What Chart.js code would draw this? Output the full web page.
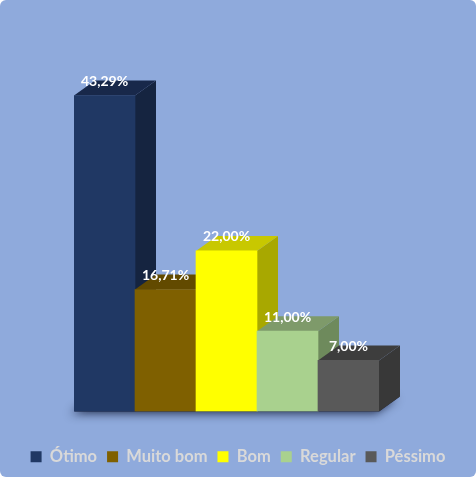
<!DOCTYPE html>
<html>
<head>
<meta charset="utf-8">
<script src="https://cdn.jsdelivr.net/npm/chart.js@4"></script>
<style>
  html, body { margin: 0; padding: 0; background: #ffffff; }
  .chart-box {
    width: 476px;
    height: 477px;
    background: #8faadc;
    border-radius: 6px;
    overflow: hidden;
  }
</style>
</head>
<body>
<div class="chart-box">
  <canvas id="avaliacaoChart" width="476" height="477"></canvas>
</div>
<script>
const categories = ['Ótimo', 'Muito bom', 'Bom', 'Regular', 'Péssimo'];
const percentages = [43.29, 16.71, 22.00, 11.00, 7.00];
const frontColors = ['#203864', '#7f6000', '#ffff00', '#a9d18e', '#595959'];
const topColors = ['#18284a', '#624a00', '#c8c800', '#7e9a6a', '#3d3d3d'];
const sideColors = ['#152440', '#574100', '#a8a800', '#6e8a5c', '#383838'];

const DEPTH_X = 21;
const DEPTH_Y = 15;

// draws the floor shadow, then side and top faces, left to right
const faces3d = {
  id: 'faces3d',
  beforeDatasetsDraw(chart) {
    const ctx = chart.ctx;
    const bars = chart.getDatasetMeta(0).data;
    const base = chart.scales.y.getPixelForValue(0);
    const first = bars[0];
    const last = bars[bars.length - 1];
    const left = first.x - first.width / 2;
    const right = last.x + last.width / 2;

    ctx.save();
    ctx.shadowColor = 'rgba(20, 30, 60, 0.85)';
    ctx.shadowBlur = 10;
    ctx.shadowOffsetX = -3;
    ctx.shadowOffsetY = 2;
    ctx.fillStyle = '#1a2340';
    ctx.beginPath();
    ctx.moveTo(left, base);
    ctx.lineTo(right, base);
    ctx.lineTo(right + DEPTH_X, base - DEPTH_Y);
    ctx.lineTo(left + DEPTH_X, base - DEPTH_Y);
    ctx.closePath();
    ctx.fill();
    ctx.restore();

    bars.forEach((bar, i) => {
      const l = bar.x - bar.width / 2;
      const r = bar.x + bar.width / 2;
      const t = bar.y;

      ctx.fillStyle = sideColors[i];
      ctx.beginPath();
      ctx.moveTo(r, t);
      ctx.lineTo(r + DEPTH_X, t - DEPTH_Y);
      ctx.lineTo(r + DEPTH_X, base - DEPTH_Y);
      ctx.lineTo(r, base);
      ctx.closePath();
      ctx.fill();

      ctx.fillStyle = topColors[i];
      ctx.beginPath();
      ctx.moveTo(l, t);
      ctx.lineTo(r, t);
      ctx.lineTo(r + DEPTH_X, t - DEPTH_Y);
      ctx.lineTo(l + DEPTH_X, t - DEPTH_Y);
      ctx.closePath();
      ctx.fill();
    });
  },
  afterDatasetsDraw(chart) {
    const ctx = chart.ctx;
    const bars = chart.getDatasetMeta(0).data;
    ctx.save();
    ctx.font = 'bold 14px Lato';
    ctx.fillStyle = '#ffffff';
    ctx.textAlign = 'center';
    ctx.textBaseline = 'middle';
    bars.forEach((bar, i) => {
      const txt = percentages[i].toFixed(2).replace('.', ',') + '%';
      ctx.fillText(txt, bar.x, bar.y - 14);
    });
    ctx.restore();
  }
};

const hiddenAxis = {
  display: true,
  ticks: { display: false },
  grid: { display: false },
  border: { display: false }
};

const ctx = document.getElementById('avaliacaoChart');

new Chart(ctx, {
  type: 'bar',
  data: {
    labels: categories,
    datasets: [{
      data: percentages,
      backgroundColor: frontColors,
      borderWidth: 0,
      barPercentage: 1,
      categoryPercentage: 1
    }]
  },
  options: {
    responsive: false,
    animation: false,
    devicePixelRatio: 1,
    layout: {
      padding: { top: 46.5, left: 0, right: 0, bottom: 2 }
    },
    plugins: {
      tooltip: { enabled: false },
      legend: {
        position: 'bottom',
        onClick: null,
        labels: {
          boxWidth: 11,
          boxHeight: 11,
          padding: 10,
          color: '#d9d9d9',
          font: { family: 'Lato', size: 16.5, weight: 'bold' },
          generateLabels: (chart) => categories.map((name, i) => ({
            text: name,
            fillStyle: frontColors[i],
            strokeStyle: frontColors[i],
            lineWidth: 0,
            fontColor: '#d9d9d9',
            hidden: false,
            index: i
          }))
        }
      }
    },
    scales: {
      x: {
        ...hiddenAxis,
        afterFit: (scale) => { scale.height = 27; }
      },
      y: {
        ...hiddenAxis,
        min: 0,
        max: 50,
        afterFit: (scale) => { scale.width = 74; }
      },
      yRight: {
        ...hiddenAxis,
        position: 'right',
        min: 0,
        max: 50,
        afterFit: (scale) => { scale.width = 97; }
      }
    }
  },
  plugins: [faces3d]
});
</script>
</body>
</html>
